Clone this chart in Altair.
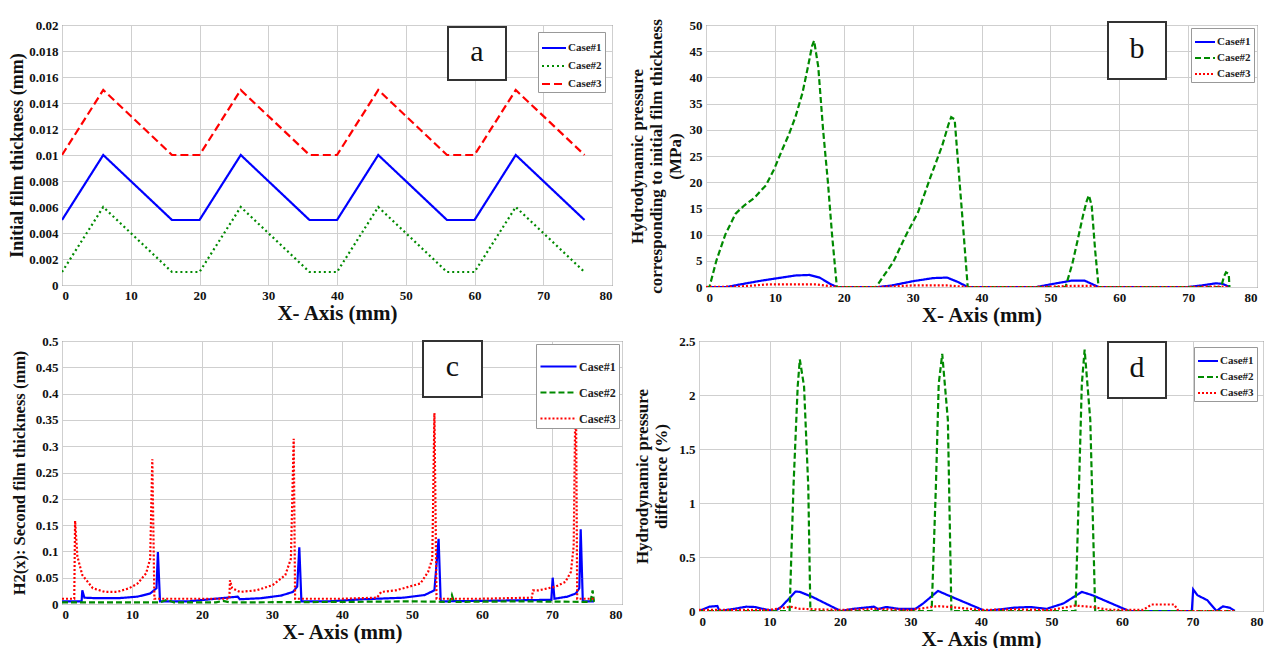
import altair as alt
import pandas as pd

SERIF = "Liberation Serif"
CASES = ["Case#1", "Case#2", "Case#3"]
COLORS = ["#0000ff", "#008a00", "#ff0000"]

X_TICKS = [0, 10, 20, 30, 40, 50, 60, 70, 80]
A_TICKS = [0, 0.002, 0.004, 0.006, 0.008, 0.01, 0.012, 0.014, 0.016, 0.018, 0.02]
B_TICKS = [0, 5, 10, 15, 20, 25, 30, 35, 40, 45, 50]
C_TICKS = [0, 0.05, 0.1, 0.15, 0.2, 0.25, 0.3, 0.35, 0.4, 0.45, 0.5]
D_TICKS = [0, 0.5, 1, 1.5, 2, 2.5]

# ---------------- panel a : initial film thickness ----------------
a_x = [0, 6, 16, 20, 26, 36, 40, 46, 56, 60, 66, 76]
a_case1 = [0.005, 0.01, 0.005, 0.005, 0.01, 0.005, 0.005, 0.01, 0.005, 0.005, 0.01, 0.005]
a_case2 = [0.001, 0.006, 0.001, 0.001, 0.006, 0.001, 0.001, 0.006, 0.001, 0.001, 0.006, 0.001]
a_case3 = [0.01, 0.015, 0.01, 0.01, 0.015, 0.01, 0.01, 0.015, 0.01, 0.01, 0.015, 0.01]

# ---------------- panel b : hydrodynamic pressure ----------------
b1_x = [0, 3, 5, 8, 11, 13, 15, 16.5, 18, 19, 25, 27, 30, 33, 35, 36.5, 38, 48, 50, 53, 55, 56, 57, 70, 72, 74, 75, 76]
b1_y = [0, 0, 0.5, 1.2, 1.8, 2.2, 2.3, 1.8, 0.6, 0, 0, 0.3, 1.1, 1.7, 1.8, 1.0, 0, 0, 0.5, 1.2, 1.2, 0.6, 0, 0, 0.3, 0.7, 0.6, 0]
b2_x = [0, 0.5, 1.5, 2.8, 4.3, 5.5, 7, 8.7, 9.9, 11, 12, 13, 14, 14.8, 15.4, 15.7, 16.3, 17, 17.7, 18.3, 19,
        24.7, 26, 27.2, 29, 30.8, 32.6, 34.3, 35.2, 35.6, 36.1, 36.7, 37.3, 38,
        52.2, 53.2, 54, 54.8, 55.3, 55.6, 56, 56.5, 57,
        74.8, 75.2, 75.5, 75.9, 76]
b2_y = [0, 0, 5, 10, 14, 15.5, 17, 19.4, 22.5, 26, 29, 32.5, 37, 42, 46, 47, 42, 30, 20, 10, 0,
        0, 2.5, 4.8, 9.8, 14.3, 21, 27, 31, 32.4, 32, 22, 12, 0,
        0, 4.5, 9.2, 14, 16.5, 17.5, 15.5, 7, 0,
        0, 2, 2.8, 2.5, 0]
b3_x = [0, 5, 9, 16, 19, 25, 30, 35, 38, 48, 53, 56, 57, 70, 74, 76]
b3_y = [0, 0.1, 0.5, 0.5, 0, 0, 0.3, 0.3, 0, 0, 0.2, 0.2, 0, 0, 0.1, 0]

# ---------------- panel c : second film thickness ----------------
c1_x = [0, 2.8, 2.9, 3.2, 5, 8, 10.8, 12.6, 13.5, 13.7, 14.0, 18, 25.1, 25.4, 28.4, 31.3, 33, 33.6, 33.9, 34.2,
        38, 43, 48.8, 51.8, 53.2, 53.8, 54.1, 60, 69.9, 70.1, 70.35, 72.2, 73.4, 73.9, 74.1, 74.4, 76]
c1_y = [0.005, 0.005, 0.026, 0.012, 0.011, 0.011, 0.014, 0.02, 0.03, 0.099, 0.005, 0.005, 0.014, 0.009, 0.011, 0.016,
        0.023, 0.033, 0.108, 0.005, 0.005, 0.009, 0.012, 0.017, 0.026, 0.124, 0.005, 0.006, 0.008, 0.05, 0.01,
        0.014, 0.02, 0.03, 0.142, 0.005, 0.005]
c2_x = [0, 14, 15, 16, 22, 23, 24, 40, 50, 55.4, 55.7, 56, 65, 75.5, 75.8, 76]
c2_y = [0.003, 0.003, 0.008, 0.003, 0.003, 0.006, 0.003, 0.004, 0.005, 0.004, 0.017, 0.004, 0.005, 0.004, 0.026, 0.004]
c3_x = [0, 1.75, 1.87, 2.2, 2.9, 4.4, 6.1, 7.9, 9.6, 10.8, 12, 12.6, 12.9, 13.2, 20, 23.9, 24.0, 24.3, 25.4, 27.8,
        30.1, 31.9, 32.7, 33.1, 33.3, 40, 45, 45.6, 47.7, 48.8, 51.2, 52.3, 52.9, 53.2, 53.5, 60, 67.1, 67.3,
        68.1, 70.5, 71.9, 72.7, 73.1, 73.35, 73.42, 73.6, 76]
c3_y = [0.01, 0.01, 0.158, 0.09, 0.055, 0.03, 0.023, 0.023, 0.03, 0.039, 0.058, 0.086, 0.275, 0.01, 0.01, 0.01,
        0.045, 0.03, 0.023, 0.026, 0.036, 0.055, 0.086, 0.314, 0.01, 0.01, 0.012, 0.023, 0.026, 0.03, 0.039,
        0.061, 0.086, 0.363, 0.01, 0.01, 0.012, 0.026, 0.026, 0.033, 0.042, 0.061, 0.11, 0.4, 0.4, 0.01, 0.01]

# ---------------- panel d : pressure difference ----------------
d1_x = [0, 1.5, 2.6, 2.9, 5, 6.7, 7.9, 9.6, 10.8, 11.7, 13.7, 14.3, 16.1, 20.1, 21.9, 24.8, 25.4, 26.6, 28.3,
        30.7, 31.8, 33.9, 35.3, 40.6, 42.3, 44.7, 47, 49.3, 51.7, 54.3, 55.8, 61, 69.9, 70.1, 70.7, 72.1, 73.4,
        74.3, 75.3, 76]
d1_y = [0, 0.04, 0.046, 0, 0.02, 0.04, 0.037, 0.012, 0, 0.04, 0.18, 0.177, 0.13, 0, 0.02, 0.04, 0.018, 0.037,
        0.02, 0.02, 0.07, 0.186, 0.146, 0, 0.012, 0.031, 0.037, 0.02, 0.07, 0.177, 0.146, 0, 0, 0.2, 0.146,
        0.1, 0, 0.043, 0.03, 0]
d2_x = [0, 12.85, 13.4, 14.0, 14.3, 14.9, 15.5, 15.8, 33, 33.6, 34.0, 34.5, 35.3, 35.8,
        53.4, 53.9, 54.3, 54.7, 55.5, 56.2, 76]
d2_y = [0, 0, 1.15, 2.08, 2.33, 2.08, 1.15, 0, 0, 1.15, 2.1, 2.38, 1.77, 0,
        0, 1.15, 2.1, 2.42, 1.77, 0, 0]
d3_x = [0, 5, 10, 13, 14.3, 20, 25, 30, 33.9, 35.6, 40, 45, 50, 53.4, 55.8, 58, 63, 64.2, 67.4, 68, 76]
d3_y = [0.01, 0.01, 0.01, 0.04, 0.02, 0.01, 0.02, 0.01, 0.045, 0.037, 0.01, 0.015, 0.01, 0.05, 0.037, 0.012,
        0.01, 0.06, 0.06, 0, 0]


def frame(xs, ys):
    rows = []
    for case, xv, yv in zip(CASES, xs, ys):
        for i, (x, y) in enumerate(zip(xv, yv)):
            rows.append({"case": case, "x": x, "y": y, "i": i})
    return pd.DataFrame(rows)


def panel(df, ydom, yticks, ytitle, dashes, label, box, w, h, leg, title_pad, title_size):
    legend = alt.Legend(
        title=None, orient="top-right", offset=leg["offset"], fillColor="white",
        strokeColor="#999999", padding=3, labelFont=SERIF, labelFontSize=leg["font"],
        labelFontWeight="bold", labelColor="#222", symbolType="stroke",
        symbolSize=leg["sym"], symbolStrokeWidth=2, rowPadding=leg["row"],
        labelOffset=1, cornerRadius=0,
    )
    lines = alt.Chart(df).mark_line(strokeWidth=2.2, clip=True).encode(
        x=alt.X("x:Q", scale=alt.Scale(domain=[0, 80], nice=False),
                axis=alt.Axis(values=X_TICKS, title="X- Axis (mm)", format="~r")),
        y=alt.Y("y:Q", scale=alt.Scale(domain=ydom, nice=False),
                axis=alt.Axis(values=yticks, title=ytitle, format="~r",
                              titlePadding=title_pad, titleFontSize=title_size)),
        color=alt.Color("case:N", scale=alt.Scale(domain=CASES, range=COLORS), legend=legend),
        strokeDash=alt.StrokeDash("case:N", scale=alt.Scale(domain=CASES, range=dashes), legend=legend),
        order="i:Q",
    )
    lab = pd.DataFrame({"t": [label]})
    rect = alt.Chart(lab).mark_rect(fill="white", stroke="#333333", strokeWidth=2).encode(
        x=alt.value(box[0]), x2=alt.value(box[1]), y=alt.value(box[2]), y2=alt.value(box[3]))
    txt = alt.Chart(lab).mark_text(font=SERIF, fontSize=30, color="#111", baseline="middle").encode(
        x=alt.value((box[0] + box[1]) / 2), y=alt.value((box[2] + box[3]) / 2 - 2), text="t:N")
    return alt.layer(lines, rect, txt).properties(width=w, height=h)


DASH_A = [[1, 0], [2, 3], [8, 4]]
DASH_B = [[1, 0], [6, 3], [2, 2]]

pa = panel(frame([a_x] * 3, [a_case1, a_case2, a_case3]), [0, 0.02], A_TICKS,
           "Initial film thickness (mm)", DASH_A, "a", (386, 444, 2, 55), 550, 260,
           {"offset": 7, "font": 11, "sym": 576, "row": -8}, 2, 18)
pb = panel(frame([b1_x, b2_x, b3_x], [b1_y, b2_y, b3_y]), [0, 50], B_TICKS,
           ["Hydrodynamic pressure", "corresponding to initial film thickness", "(MPa)"],
           DASH_B, "b", (402, 460, -3, 54), 551, 262,
           {"offset": 3, "font": 11, "sym": 400, "row": -4}, 5, 17)
pc = panel(frame([c1_x, c2_x, c3_x], [c1_y, c2_y, c3_y]), [0, 0.5], C_TICKS,
           "H2(x): Second film thickness (mm)", DASH_B, "c", (361, 420, 0, 56), 560, 263,
           {"offset": 3, "font": 12, "sym": 1300, "row": -17}, 8, 16.5)
pd_ = panel(frame([d1_x, d2_x, d3_x], [d1_y, d2_y, d3_y]), [0, 2.5], D_TICKS,
            ["Hydrodynamic pressure", "difference (%)"], DASH_B, "d", (409, 467, 1, 57), 564, 270,
            {"offset": 6, "font": 11, "sym": 400, "row": -2}, 8, 17)

row1 = alt.hconcat(pa, pb, spacing=14).resolve_scale(color="independent", strokeDash="independent").resolve_legend(color="independent", strokeDash="independent")
row2 = alt.hconcat(pc, pd_, spacing=10).resolve_scale(color="independent", strokeDash="independent").resolve_legend(color="independent", strokeDash="independent")

chart = alt.vconcat(row1, row2, spacing=8).resolve_scale(
    color="independent", strokeDash="independent").resolve_legend(
    color="independent", strokeDash="independent").properties(
    padding={"top": 10, "left": 0, "right": 0, "bottom": 0}
).configure(font=SERIF, background="white").configure_view(
    stroke="#444444", strokeWidth=1
).configure_axis(
    labelFont=SERIF, labelFontSize=13, labelFontWeight="bold", labelColor="#111",
    titleFont=SERIF, titleFontSize=21, titleFontWeight="bold", titleColor="#111",
    gridColor="#cfcfcf", gridWidth=1, domain=False, tickSize=0, labelPadding=4,
    titleLineHeight=19,
).configure_axisX(titlePadding=0)

chart.save("out.html", embed_options={"renderer": "svg", "actions": False})
